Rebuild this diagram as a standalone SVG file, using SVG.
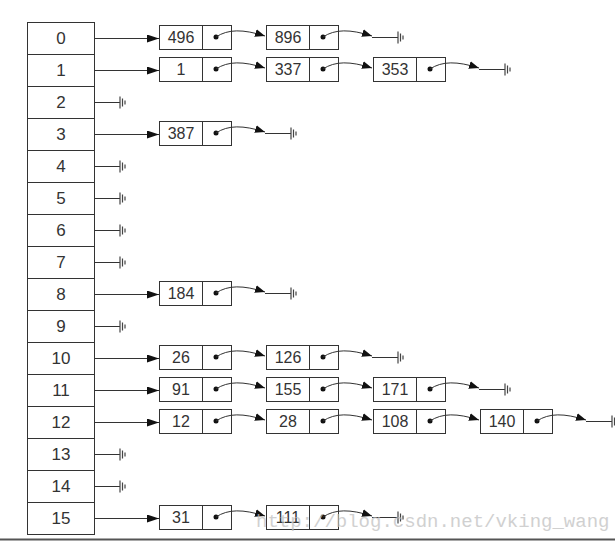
<svg xmlns="http://www.w3.org/2000/svg" xmlns:xlink="http://www.w3.org/1999/xlink" width="615" height="541" viewBox="0 0 615 541">
<style>
.cell{fill:#fff;stroke:#333;stroke-width:1}
.bl{font-family:"Liberation Sans",Arial,sans-serif;font-size:17px;fill:#333;text-anchor:middle}
.vl{font-family:"Liberation Sans",Arial,sans-serif;font-size:16px;fill:#333;text-anchor:middle}
.ln{fill:none;stroke:#333;stroke-width:1}
.dot{fill:#111}
.g{stroke:#444;stroke-width:1.2}
.wm{font-family:"Liberation Mono","Courier New",monospace;font-size:19px;fill:#bdbdbd;opacity:0.7}
</style>
<defs>
<marker id="ah" viewBox="0 0 12 8" refX="12" refY="4" markerWidth="12" markerHeight="8" markerUnits="userSpaceOnUse" orient="auto"><path d="M0,0 L12,4 L0,8 Z" fill="#111"/></marker>
<marker id="as" viewBox="0 0 10 8" refX="10" refY="4" markerWidth="10" markerHeight="8" markerUnits="userSpaceOnUse" orient="auto"><path d="M0,0 L10,4 L0,8 Z" fill="#111"/></marker>
<g id="gnd"><path class="g" d="M0,-6V6M2.5,-4V4M5,-2V2"/></g>
<g id="nd"><rect class="cell" x="0" y="-12" width="43" height="24"/><rect class="cell" x="43" y="-12" width="29" height="24"/></g>
</defs>
<rect width="615" height="541" fill="#fff"/>
<g id="buckets">
<g id="b0"><rect class="cell" x="27.5" y="22.5" width="67" height="32"/><text class="bl" x="61" y="44">0</text></g>
<g id="b1"><rect class="cell" x="27.5" y="54.5" width="67" height="32"/><text class="bl" x="61" y="76">1</text></g>
<g id="b2"><rect class="cell" x="27.5" y="86.5" width="67" height="32"/><text class="bl" x="61" y="108">2</text></g>
<g id="b3"><rect class="cell" x="27.5" y="118.5" width="67" height="32"/><text class="bl" x="61" y="140">3</text></g>
<g id="b4"><rect class="cell" x="27.5" y="150.5" width="67" height="32"/><text class="bl" x="61" y="172">4</text></g>
<g id="b5"><rect class="cell" x="27.5" y="182.5" width="67" height="32"/><text class="bl" x="61" y="204">5</text></g>
<g id="b6"><rect class="cell" x="27.5" y="214.5" width="67" height="32"/><text class="bl" x="61" y="236">6</text></g>
<g id="b7"><rect class="cell" x="27.5" y="246.5" width="67" height="32"/><text class="bl" x="61" y="268">7</text></g>
<g id="b8"><rect class="cell" x="27.5" y="278.5" width="67" height="32"/><text class="bl" x="61" y="300">8</text></g>
<g id="b9"><rect class="cell" x="27.5" y="310.5" width="67" height="32"/><text class="bl" x="61" y="332">9</text></g>
<g id="b10"><rect class="cell" x="27.5" y="342.5" width="67" height="32"/><text class="bl" x="61" y="364">10</text></g>
<g id="b11"><rect class="cell" x="27.5" y="374.5" width="67" height="32"/><text class="bl" x="61" y="396">11</text></g>
<g id="b12"><rect class="cell" x="27.5" y="406.5" width="67" height="32"/><text class="bl" x="61" y="428">12</text></g>
<g id="b13"><rect class="cell" x="27.5" y="438.5" width="67" height="32"/><text class="bl" x="61" y="460">13</text></g>
<g id="b14"><rect class="cell" x="27.5" y="470.5" width="67" height="32"/><text class="bl" x="61" y="492">14</text></g>
<g id="b15"><rect class="cell" x="27.5" y="502.5" width="67" height="32"/><text class="bl" x="61" y="524">15</text></g>
</g>
<g id="nodes">
<g id="n496"><use xlink:href="#nd" x="159.5" y="37.5"/><text class="vl" x="181" y="43">496</text><circle class="dot" cx="216" cy="37" r="2.5"/></g>
<g id="n896"><use xlink:href="#nd" x="266.5" y="37.5"/><text class="vl" x="288" y="43">896</text><circle class="dot" cx="323" cy="37" r="2.5"/></g>
<g id="n1"><use xlink:href="#nd" x="159.5" y="69.5"/><text class="vl" x="181" y="75">1</text><circle class="dot" cx="216" cy="69" r="2.5"/></g>
<g id="n337"><use xlink:href="#nd" x="266.5" y="69.5"/><text class="vl" x="288" y="75">337</text><circle class="dot" cx="323" cy="69" r="2.5"/></g>
<g id="n353"><use xlink:href="#nd" x="373.5" y="69.5"/><text class="vl" x="395" y="75">353</text><circle class="dot" cx="430" cy="69" r="2.5"/></g>
<g id="n387"><use xlink:href="#nd" x="159.5" y="133.5"/><text class="vl" x="181" y="139">387</text><circle class="dot" cx="216" cy="133" r="2.5"/></g>
<g id="n184"><use xlink:href="#nd" x="159.5" y="293.5"/><text class="vl" x="181" y="299">184</text><circle class="dot" cx="216" cy="293" r="2.5"/></g>
<g id="n26"><use xlink:href="#nd" x="159.5" y="357.5"/><text class="vl" x="181" y="363">26</text><circle class="dot" cx="216" cy="357" r="2.5"/></g>
<g id="n126"><use xlink:href="#nd" x="266.5" y="357.5"/><text class="vl" x="288" y="363">126</text><circle class="dot" cx="323" cy="357" r="2.5"/></g>
<g id="n91"><use xlink:href="#nd" x="159.5" y="389.5"/><text class="vl" x="181" y="395">91</text><circle class="dot" cx="216" cy="389" r="2.5"/></g>
<g id="n155"><use xlink:href="#nd" x="266.5" y="389.5"/><text class="vl" x="288" y="395">155</text><circle class="dot" cx="323" cy="389" r="2.5"/></g>
<g id="n171"><use xlink:href="#nd" x="373.5" y="389.5"/><text class="vl" x="395" y="395">171</text><circle class="dot" cx="430" cy="389" r="2.5"/></g>
<g id="n12"><use xlink:href="#nd" x="159.5" y="421.5"/><text class="vl" x="181" y="427">12</text><circle class="dot" cx="216" cy="421" r="2.5"/></g>
<g id="n28"><use xlink:href="#nd" x="266.5" y="421.5"/><text class="vl" x="288" y="427">28</text><circle class="dot" cx="323" cy="421" r="2.5"/></g>
<g id="n108"><use xlink:href="#nd" x="373.5" y="421.5"/><text class="vl" x="395" y="427">108</text><circle class="dot" cx="430" cy="421" r="2.5"/></g>
<g id="n140"><use xlink:href="#nd" x="480.5" y="421.5"/><text class="vl" x="502" y="427">140</text><circle class="dot" cx="537" cy="421" r="2.5"/></g>
<g id="n31"><use xlink:href="#nd" x="159.5" y="517.5"/><text class="vl" x="181" y="523">31</text><circle class="dot" cx="216" cy="517" r="2.5"/></g>
<g id="n111"><use xlink:href="#nd" x="266.5" y="517.5"/><text class="vl" x="288" y="523">111</text><circle class="dot" cx="323" cy="517" r="2.5"/></g>
</g>
<g id="connectors">
<path class="ln" marker-end="url(#ah)" d="M94,38.5H159"/>
<path class="ln" marker-end="url(#ah)" d="M94,70.5H159"/>
<path class="ln" marker-end="url(#ah)" d="M94,134.5H159"/>
<path class="ln" marker-end="url(#ah)" d="M94,294.5H159"/>
<path class="ln" marker-end="url(#ah)" d="M94,358.5H159"/>
<path class="ln" marker-end="url(#ah)" d="M94,390.5H159"/>
<path class="ln" marker-end="url(#ah)" d="M94,422.5H159"/>
<path class="ln" marker-end="url(#ah)" d="M94,518.5H159"/>
<path class="ln" d="M94,102.5H120M94,166.5H120M94,198.5H120M94,230.5H120M94,262.5H120M94,326.5H120M94,454.5H120M94,486.5H120"/>
<use xlink:href="#gnd" x="120" y="102.5"/>
<use xlink:href="#gnd" x="120" y="166.5"/>
<use xlink:href="#gnd" x="120" y="198.5"/>
<use xlink:href="#gnd" x="120" y="230.5"/>
<use xlink:href="#gnd" x="120" y="262.5"/>
<use xlink:href="#gnd" x="120" y="326.5"/>
<use xlink:href="#gnd" x="120" y="454.5"/>
<use xlink:href="#gnd" x="120" y="486.5"/>
<path class="ln" marker-end="url(#as)" d="M216,37C228,29 243,29 265,36"/>
<path class="ln" marker-end="url(#as)" d="M323,37C335,29 350,29 372,36"/>
<path class="ln" d="M372,37.5H398"/><use xlink:href="#gnd" x="398" y="37.5"/>
<path class="ln" marker-end="url(#as)" d="M216,69C228,61 243,61 265,68"/>
<path class="ln" marker-end="url(#as)" d="M323,69C335,61 350,61 372,68"/>
<path class="ln" marker-end="url(#as)" d="M430,69C442,61 457,61 479,68"/>
<path class="ln" d="M479,69.5H505"/><use xlink:href="#gnd" x="505" y="69.5"/>
<path class="ln" marker-end="url(#as)" d="M216,133C228,125 243,125 265,132"/>
<path class="ln" d="M265,133.5H291"/><use xlink:href="#gnd" x="291" y="133.5"/>
<path class="ln" marker-end="url(#as)" d="M216,293C228,285 243,285 265,292"/>
<path class="ln" d="M265,293.5H291"/><use xlink:href="#gnd" x="291" y="293.5"/>
<path class="ln" marker-end="url(#as)" d="M216,357C228,349 243,349 265,356"/>
<path class="ln" marker-end="url(#as)" d="M323,357C335,349 350,349 372,356"/>
<path class="ln" d="M372,357.5H398"/><use xlink:href="#gnd" x="398" y="357.5"/>
<path class="ln" marker-end="url(#as)" d="M216,389C228,381 243,381 265,388"/>
<path class="ln" marker-end="url(#as)" d="M323,389C335,381 350,381 372,388"/>
<path class="ln" marker-end="url(#as)" d="M430,389C442,381 457,381 479,388"/>
<path class="ln" d="M479,389.5H505"/><use xlink:href="#gnd" x="505" y="389.5"/>
<path class="ln" marker-end="url(#as)" d="M216,421C228,413 243,413 265,420"/>
<path class="ln" marker-end="url(#as)" d="M323,421C335,413 350,413 372,420"/>
<path class="ln" marker-end="url(#as)" d="M430,421C442,413 457,413 479,420"/>
<path class="ln" marker-end="url(#as)" d="M537,421C549,413 564,413 586,420"/>
<path class="ln" d="M586,421.5H612"/><use xlink:href="#gnd" x="612" y="421.5"/>
<path class="ln" marker-end="url(#as)" d="M216,517C228,509 243,509 265,516"/>
<path class="ln" marker-end="url(#as)" d="M323,517C335,509 350,509 372,516"/>
<path class="ln" d="M372,517.5H398"/><use xlink:href="#gnd" x="398" y="517.5"/>
</g>
<text class="wm" x="256" y="527">http://blog.csdn.net/vking_wang</text>
<path d="M0,539.5H615" stroke="#555" stroke-width="2"/>
</svg>
